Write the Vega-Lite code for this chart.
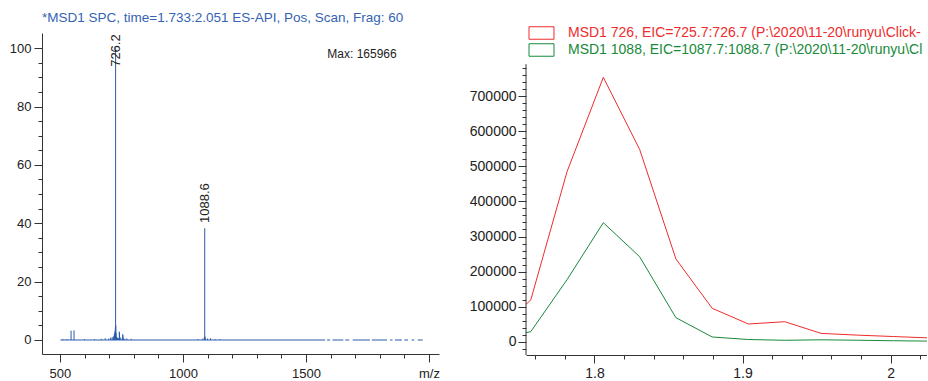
{
  "$schema": "https://vega.github.io/schema/vega-lite/v6.json",
  "background": "white",
  "padding": {"left": 9, "top": 10, "right": 0, "bottom": 0},
  "config": {
    "view": {"stroke": null},
    "font": "Liberation Sans",
    "axis": {"grid": false, "domainColor": "#333", "tickColor": "#333", "labelColor": "#222", "labelFont": "Liberation Sans", "title": null, "labelFlush": false, "labelOverlap": false}
  },
  "spacing": 29,
  "resolve": {"scale": {"color": "independent"}, "legend": {"color": "independent"}},
  "datasets": {
    "baseline": [
      {"from": 502, "to": 1578}, {"from": 1586, "to": 1598}, {"from": 1608, "to": 1652}, {"from": 1660, "to": 1676},
      {"from": 1690, "to": 1760}, {"from": 1768, "to": 1830}, {"from": 1842, "to": 1852}, {"from": 1862, "to": 1890},
      {"from": 1900, "to": 1915}, {"from": 1930, "to": 1940}, {"from": 1955, "to": 1975}
    ],
    "spectrum": [
      {"mz": 512, "pct": 0.3}, {"mz": 528, "pct": 0.3}, {"mz": 545.2, "pct": 3.2}, {"mz": 557.2, "pct": 3.3},
      {"mz": 600, "pct": 0.3}, {"mz": 640, "pct": 0.3}, {"mz": 668, "pct": 0.4}, {"mz": 684, "pct": 0.6},
      {"mz": 698, "pct": 0.5}, {"mz": 706, "pct": 0.8}, {"mz": 712, "pct": 0.9}, {"mz": 716, "pct": 1.0},
      {"mz": 719, "pct": 1.4}, {"mz": 721.2, "pct": 2.0}, {"mz": 723.2, "pct": 2.6}, {"mz": 724.2, "pct": 3.2},
      {"mz": 725.2, "pct": 4.2}, {"mz": 726.2, "pct": 100}, {"mz": 727.2, "pct": 5.0}, {"mz": 728.2, "pct": 2.4},
      {"mz": 729.2, "pct": 1.2}, {"mz": 731, "pct": 1.0}, {"mz": 734, "pct": 0.7}, {"mz": 738, "pct": 0.6},
      {"mz": 741.2, "pct": 2.9}, {"mz": 742.2, "pct": 2.5}, {"mz": 744, "pct": 1.0}, {"mz": 748, "pct": 0.6},
      {"mz": 755.2, "pct": 2.0}, {"mz": 756.2, "pct": 1.6}, {"mz": 758, "pct": 0.6}, {"mz": 764, "pct": 0.4},
      {"mz": 772, "pct": 0.5}, {"mz": 790, "pct": 0.4}, {"mz": 1060, "pct": 0.3}, {"mz": 1080, "pct": 0.4},
      {"mz": 1086.6, "pct": 0.8}, {"mz": 1087.6, "pct": 1.0}, {"mz": 1088.6, "pct": 38.3}, {"mz": 1089.6, "pct": 1.2},
      {"mz": 1090.6, "pct": 0.6}, {"mz": 1100, "pct": 0.5}, {"mz": 1112, "pct": 0.6}, {"mz": 1130, "pct": 0.3},
      {"mz": 1150, "pct": 0.3}
    ],
    "eic": [
      {"series": "MSD1 726, EIC=725.7:726.7 (P:\\2020\\11-20\\runyu\\Click-29.D)", "time": 1.7325, "counts": 26000},
      {"series": "MSD1 726, EIC=725.7:726.7 (P:\\2020\\11-20\\runyu\\Click-29.D)", "time": 1.757, "counts": 119000},
      {"series": "MSD1 726, EIC=725.7:726.7 (P:\\2020\\11-20\\runyu\\Click-29.D)", "time": 1.7815, "counts": 484600},
      {"series": "MSD1 726, EIC=725.7:726.7 (P:\\2020\\11-20\\runyu\\Click-29.D)", "time": 1.806, "counts": 753500},
      {"series": "MSD1 726, EIC=725.7:726.7 (P:\\2020\\11-20\\runyu\\Click-29.D)", "time": 1.8305, "counts": 548400},
      {"series": "MSD1 726, EIC=725.7:726.7 (P:\\2020\\11-20\\runyu\\Click-29.D)", "time": 1.855, "counts": 236000},
      {"series": "MSD1 726, EIC=725.7:726.7 (P:\\2020\\11-20\\runyu\\Click-29.D)", "time": 1.8795, "counts": 95400},
      {"series": "MSD1 726, EIC=725.7:726.7 (P:\\2020\\11-20\\runyu\\Click-29.D)", "time": 1.904, "counts": 50700},
      {"series": "MSD1 726, EIC=725.7:726.7 (P:\\2020\\11-20\\runyu\\Click-29.D)", "time": 1.9285, "counts": 57300},
      {"series": "MSD1 726, EIC=725.7:726.7 (P:\\2020\\11-20\\runyu\\Click-29.D)", "time": 1.953, "counts": 24000},
      {"series": "MSD1 726, EIC=725.7:726.7 (P:\\2020\\11-20\\runyu\\Click-29.D)", "time": 1.9775, "counts": 19000},
      {"series": "MSD1 726, EIC=725.7:726.7 (P:\\2020\\11-20\\runyu\\Click-29.D)", "time": 2.002, "counts": 15000},
      {"series": "MSD1 726, EIC=725.7:726.7 (P:\\2020\\11-20\\runyu\\Click-29.D)", "time": 2.0265, "counts": 11000},
      {"series": "MSD1 1088, EIC=1087.7:1088.7 (P:\\2020\\11-20\\runyu\\Click-29.D)", "time": 1.7325, "counts": 7400},
      {"series": "MSD1 1088, EIC=1087.7:1088.7 (P:\\2020\\11-20\\runyu\\Click-29.D)", "time": 1.757, "counts": 28800},
      {"series": "MSD1 1088, EIC=1087.7:1088.7 (P:\\2020\\11-20\\runyu\\Click-29.D)", "time": 1.7815, "counts": 177000},
      {"series": "MSD1 1088, EIC=1087.7:1088.7 (P:\\2020\\11-20\\runyu\\Click-29.D)", "time": 1.806, "counts": 339300},
      {"series": "MSD1 1088, EIC=1087.7:1088.7 (P:\\2020\\11-20\\runyu\\Click-29.D)", "time": 1.8305, "counts": 242500},
      {"series": "MSD1 1088, EIC=1087.7:1088.7 (P:\\2020\\11-20\\runyu\\Click-29.D)", "time": 1.855, "counts": 68700},
      {"series": "MSD1 1088, EIC=1087.7:1088.7 (P:\\2020\\11-20\\runyu\\Click-29.D)", "time": 1.8795, "counts": 13700},
      {"series": "MSD1 1088, EIC=1087.7:1088.7 (P:\\2020\\11-20\\runyu\\Click-29.D)", "time": 1.904, "counts": 6500},
      {"series": "MSD1 1088, EIC=1087.7:1088.7 (P:\\2020\\11-20\\runyu\\Click-29.D)", "time": 1.9285, "counts": 4300},
      {"series": "MSD1 1088, EIC=1087.7:1088.7 (P:\\2020\\11-20\\runyu\\Click-29.D)", "time": 1.953, "counts": 5700},
      {"series": "MSD1 1088, EIC=1087.7:1088.7 (P:\\2020\\11-20\\runyu\\Click-29.D)", "time": 1.9775, "counts": 4500},
      {"series": "MSD1 1088, EIC=1087.7:1088.7 (P:\\2020\\11-20\\runyu\\Click-29.D)", "time": 2.002, "counts": 3000},
      {"series": "MSD1 1088, EIC=1087.7:1088.7 (P:\\2020\\11-20\\runyu\\Click-29.D)", "time": 2.0265, "counts": 2000}
    ]
  },
  "hconcat": [
    {
      "title": {"text": "*MSD1 SPC, time=1.733:2.051 ES-API, Pos, Scan, Frag: 60", "anchor": "start", "frame": "group", "fontSize": 13.5, "font": "Liberation Sans", "fontWeight": "normal", "color": "#3563b4", "offset": 9},
      "width": 397,
      "height": 321,
      "resolve": {"axis": {"x": "independent", "y": "independent"}},
      "layer": [
        {
          "data": {"name": "baseline"},
          "mark": {"type": "rule", "color": "#2b5cab", "strokeWidth": 1},
          "encoding": {
            "x": {"field": "from", "type": "quantitative", "scale": {"domain": [427, 2041], "nice": false, "zero": false},
                  "axis": {"values": [500, 1000, 1500, 2000], "tickSize": 8, "labelFontSize": 13, "labelPadding": 5, "format": "d", "labelExpr": "datum.value == 2000 ? 'm/z' : datum.label", "orient": "bottom"}},
            "x2": {"field": "to"},
            "y": {"datum": 0, "type": "quantitative", "scale": {"domain": [-4.8, 105.2], "nice": false, "zero": false},
                  "axis": {"values": [0, 20, 40, 60, 80, 100], "tickSize": 8, "labelFontSize": 13, "labelPadding": 3, "format": "d", "orient": "left"}}
          }
        },
        {
          "data": {"name": "spectrum"},
          "mark": {"type": "rule", "color": "#2b5cab", "strokeWidth": 1},
          "encoding": {
            "x": {"field": "mz", "type": "quantitative",
                  "axis": {"values": [600, 700, 800, 900, 1100, 1200, 1300, 1400, 1600, 1700, 1800, 1900], "tickSize": 4, "labels": false, "domain": false, "orient": "bottom"}},
            "y": {"field": "pct", "type": "quantitative",
                  "axis": {"values": [5, 10, 15, 25, 30, 35, 45, 50, 55, 65, 70, 75, 85, 90, 95], "tickSize": 4, "labels": false, "domain": false, "orient": "left"}},
            "y2": {"datum": 0}
          }
        },
        {
          "data": {"values": [{}]},
          "mark": {"type": "text", "angle": 270, "align": "left", "baseline": "middle", "fontSize": 13, "color": "#222"},
          "encoding": {
            "x": {"datum": 726.2, "type": "quantitative", "axis": null},
            "y": {"datum": 93.6, "type": "quantitative", "axis": null},
            "text": {"value": "726.2"}
          }
        },
        {
          "data": {"values": [{}]},
          "mark": {"type": "text", "angle": 270, "align": "left", "baseline": "middle", "fontSize": 13, "color": "#222"},
          "encoding": {
            "x": {"datum": 1088.6, "type": "quantitative", "axis": null},
            "y": {"datum": 40.1, "type": "quantitative", "axis": null},
            "text": {"value": "1088.6"}
          }
        },
        {
          "data": {"values": [{}]},
          "mark": {"type": "text", "align": "center", "baseline": "middle", "fontSize": 12, "color": "#222"},
          "encoding": {
            "x": {"datum": 1728, "type": "quantitative", "axis": null},
            "y": {"datum": 98, "type": "quantitative", "axis": null},
            "text": {"value": "Max: 165966"}
          }
        }
      ]
    },
    {
      "width": 401,
      "height": 322,
      "resolve": {"axis": {"x": "independent", "y": "independent"}},
      "layer": [
        {
          "data": {"name": "eic"},
          "mark": {"type": "line", "clip": true, "strokeWidth": 1},
          "encoding": {
            "x": {"field": "time", "type": "quantitative", "scale": {"domain": [1.7538, 2.0245], "nice": false, "zero": false},
                  "axis": {"values": [1.8, 1.9, 2.0], "tickSize": 8, "labelFontSize": 14, "labelPadding": 3, "format": "~f", "orient": "bottom"}},
            "y": {"field": "counts", "type": "quantitative", "scale": {"domain": [-37600, 879800], "nice": false, "zero": false},
                  "axis": {"values": [0, 100000, 200000, 300000, 400000, 500000, 600000, 700000], "tickSize": 8, "labelFontSize": 14, "labelPadding": 2, "format": "d", "domain": false, "orient": "left"}},
            "color": {"field": "series", "type": "nominal",
                      "scale": {"domain": ["MSD1 726, EIC=725.7:726.7 (P:\\2020\\11-20\\runyu\\Click-29.D)", "MSD1 1088, EIC=1087.7:1088.7 (P:\\2020\\11-20\\runyu\\Click-29.D)"], "range": ["#ee2c2c", "#178a3a"]},
                      "legend": {"orient": "none", "legendX": 8.5, "legendY": -7, "direction": "vertical", "title": null, "symbolType": "M-2,-1H2V1H-2Z", "symbolSize": 156, "symbolStrokeWidth": 1, "symbolFillColor": "white",
                                 "labelFontSize": 14, "labelFont": "Liberation Sans", "labelLimit": 356, "labelOffset": 19.5, "rowPadding": -1,
                                 "encode": {"labels": {"update": {"fill": {"signal": "indexof(datum.value, '726,') >= 0 ? '#ee2c2c' : '#178a3a'"}, "ellipsis": {"value": "\u200b"}}}}}}
          }
        },
        {
          "data": {"name": "eic"},
          "mark": {"type": "point", "clip": true, "opacity": 0},
          "encoding": {
            "x": {"field": "time", "type": "quantitative",
                  "axis": {"values": [1.76, 1.78, 1.82, 1.84, 1.86, 1.88, 1.92, 1.94, 1.96, 1.98, 2.02], "tickSize": 4, "labels": false, "domain": false, "orient": "bottom"}},
            "y": {"field": "counts", "type": "quantitative",
                  "axis": {"values": [-20000, 20000, 40000, 60000, 80000, 120000, 140000, 160000, 180000, 220000, 240000, 260000, 280000, 320000, 340000, 360000, 380000, 420000, 440000, 460000, 480000, 520000, 540000, 560000, 580000, 620000, 640000, 660000, 680000, 720000, 740000, 760000, 780000], "tickSize": 4, "labels": false, "domain": false, "orient": "left"}}
          }
        },
        {
          "data": {"values": [{}]},
          "mark": {"type": "rule", "color": "#333", "strokeWidth": 1},
          "encoding": {
            "x": {"datum": 1.7538, "type": "quantitative", "axis": null},
            "y": {"datum": -37600, "type": "quantitative", "axis": null},
            "y2": {"datum": 791000}
          }
        }
      ]
    }
  ]
}
